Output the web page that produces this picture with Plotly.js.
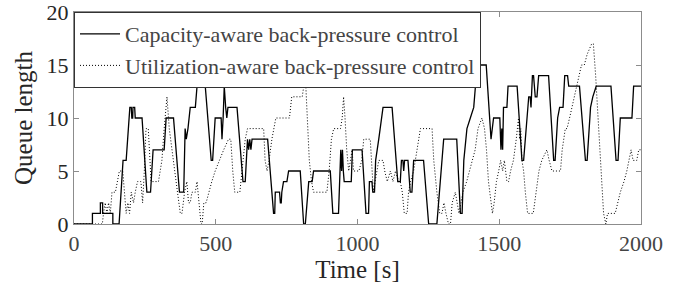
<!DOCTYPE html>
<html>
<head>
<meta charset="utf-8">
<script src="https://cdn.plot.ly/plotly-3.0.1.min.js"></script>
<style>
html,body{margin:0;padding:0;background:#fff;}
#chart{width:683px;height:297px;}
</style>
</head>
<body>
<div id="chart"></div>
<script>
// Capacity-aware back-pressure control (solid)
var capTime = [0,65,65,93,93,101,101,137,137,159,173,184,197,202,204,207,208,214,216,240,257,270,279,318,325,351,372,387,392,396,402,410,428,434,463,484,489,498,519,522,526,530,535,539,543,575,596,604,612,616,620,624,628,634,683,704,708,710,725,728,731,733,739,751,757,798,810,816,828,840,845,904,913,933,941,944,947,950,953,978,982,1016,1030,1039,1042,1051,1054,1060,1064,1075,1090,1122,1142,1151,1155,1160,1163,1166,1178,1186,1192,1198,1233,1251,1280,1304,1350,1363,1369,1375,1386,1398,1410,1416,1421,1454,1471,1480,1502,1506,1509,1512,1515,1527,1531,1563,1580,1586,1604,1609,1612,1617,1621,1627,1633,1639,1674,1692,1697,1706,1713,1725,1731,1741,1745,1783,1804,1810,1822,1830,1842,1894,1912,1919,1927,1968,1974,2000];
var capQueue = [0,0,1,1,2,2,1,1,0,0,6,6,11,11,10,10,11,11,10,10,3,3,7,7,10,10,3,3,9,8,9,11,11,13,13,6,6,10,10,8,10,13,11,10,11,11,4,4,8,7,8,7,8,8,8,1,1,3,3,2,2,3,4,4,5,5,0,0,4,4,5,5,1,1,7,5,7,5,4,4,7,7,1,1,4,4,3,3,6,8,11,11,4,4,6,6,5,6,6,3,3,6,6,0,0,8,8,1,1,6,9,10,11,13,15,15,8,10,10,7,9,7,11,11,13,13,6,6,12,12,11,14,14,12,12,14,14,6,6,10,11,11,14,14,13,13,6,6,11,12,13,13,6,6,10,10,13,13];

// Utilization-aware back-pressure control (dotted)
var utilTime = [0,100,104,110,116,122,128,134,146,152,160,172,178,184,190,196,202,210,216,224,236,242,248,254,262,268,272,298,310,318,328,336,345,355,365,375,381,390,398,404,410,416,428,434,440,448,452,458,466,475,486,498,512,528,545,553,560,567,585,595,604,612,669,674,681,688,698,712,760,768,805,816,822,830,838,845,880,892,900,908,916,940,946,951,956,962,969,975,981,986,1005,1015,1022,1045,1050,1056,1062,1068,1075,1090,1096,1105,1116,1125,1134,1145,1151,1158,1165,1175,1180,1187,1198,1210,1222,1263,1269,1280,1290,1298,1305,1312,1321,1328,1334,1345,1352,1358,1365,1372,1385,1395,1405,1415,1425,1439,1448,1455,1462,1470,1476,1482,1490,1498,1505,1512,1518,1527,1533,1540,1550,1560,1568,1572,1576,1580,1586,1592,1600,1620,1630,1640,1650,1668,1676,1686,1716,1722,1733,1739,1748,1765,1775,1790,1800,1810,1826,1832,1840,1850,1860,1868,1876,1882,1909,1918,1927,1940,1950,1965,1972,1985,1992,2000];
var utilQueue = [0,0,1,2,1,2,1,3,3,4,5,5,3,1,2,1,3,2,3,4,4,2,5,9,9,5,4,4,6,9,12,9,7,5,3,1,1,3,4,2,2,3,3,4,2,0,0,2,2,3,4,5,6,7,8,8,5,3,3,6,8,9,9,6,5,6,8,10,10,12,12,14,10,6,4,3,3,3,5,8,9,9,10,12,10,7,5,6,7,5,5,6,8,8,6,3,4,5,6,6,5,4,5,4,5,4,4,3,1,1,3,4,5,7,9,9,6,3,1,1,2,1,0,0,2,3,2,1,2,3,4,5,6,7,9,10,9,7,4,2,1,2,4,5,6,5,6,4,4,5,6,8,10,8,9,6,5,3,1,1,3,5,6,7,6,5,5,7,9,9,10,12,13,15,15,16,17,17,14,9,4,1,0,1,1,2,3,4,5,7,6,6,7,7];

var xTicks = [0,500,1000,1500,2000];
var yTicks = [0,5,10,15,20];
var seriesNames = ['Capacity-aware back-pressure control','Utilization-aware back-pressure control'];

var FONT = 'Liberation Serif';
var axisColor = '#8c8c8c';
var textColor = '#262626';

var traces = [
  {x: capTime, y: capQueue, name: seriesNames[0], mode: 'lines', type: 'scatter',
   line: {color: '#000', width: 1.3}},
  {x: utilTime, y: utilQueue, name: seriesNames[1], mode: 'lines', type: 'scatter',
   line: {color: '#000', width: 1, dash: '1px,2px'}}
];

var layout = {
  width: 683, height: 297,
  margin: {l: 74, r: 42, t: 12, b: 73},
  paper_bgcolor: '#ffffff', plot_bgcolor: '#ffffff',
  font: {family: FONT, size: 22},
  showlegend: true,
  legend: {x: 0, y: 1, xanchor: 'left', yanchor: 'top', bgcolor: '#ffffff',
           bordercolor: '#333333', borderwidth: 1, font: {family: FONT, size: 22},
           itemwidth: 40, tracegroupgap: 0},
  xaxis: {range: [0, 2000], tickvals: xTicks, ticktext: xTicks.map(String),
          ticks: 'inside', ticklen: 5, tickcolor: axisColor, showgrid: false, zeroline: false,
          showline: true, linecolor: axisColor, linewidth: 1, mirror: 'ticks',
          tickfont: {family: FONT, size: 22}, ticklabeloverflow: 'allow',
          title: {text: 'Time [s]', font: {family: FONT, size: 25, color: textColor}, standoff: 4},
          automargin: false},
  yaxis: {range: [0, 20], tickvals: yTicks,
          ticks: 'inside', ticklen: 5, tickcolor: axisColor, showgrid: false, zeroline: false,
          showline: true, linecolor: axisColor, linewidth: 1, mirror: 'ticks',
          tickfont: {family: FONT, size: 22, color: textColor}, ticklabeloverflow: 'allow',
          title: {text: 'Queue length', font: {family: FONT, size: 25, color: textColor}, standoff: 6},
          automargin: false}
};

function touchText() {
  var nodes = document.querySelectorAll('#chart svg text');
  var s = '';
  for (var i = 0; i < nodes.length; i++) {
    s += getComputedStyle(nodes[i]).fontFamily;
    try { nodes[i].getBBox(); } catch (e) {}
  }
  return s.length;
}

function draw() {
  return Plotly.newPlot('chart', traces, layout, {staticPlot: true, displayModeBar: false}).then(function () {
    touchText();
  });
}

var fontLoad = (document.fonts && document.fonts.load) ?
  Promise.all([document.fonts.load('22px "Liberation Serif"'), document.fonts.load('25px "Liberation Serif"')]) :
  Promise.resolve();
fontLoad.then(draw, draw);
</script>
</body>
</html>
